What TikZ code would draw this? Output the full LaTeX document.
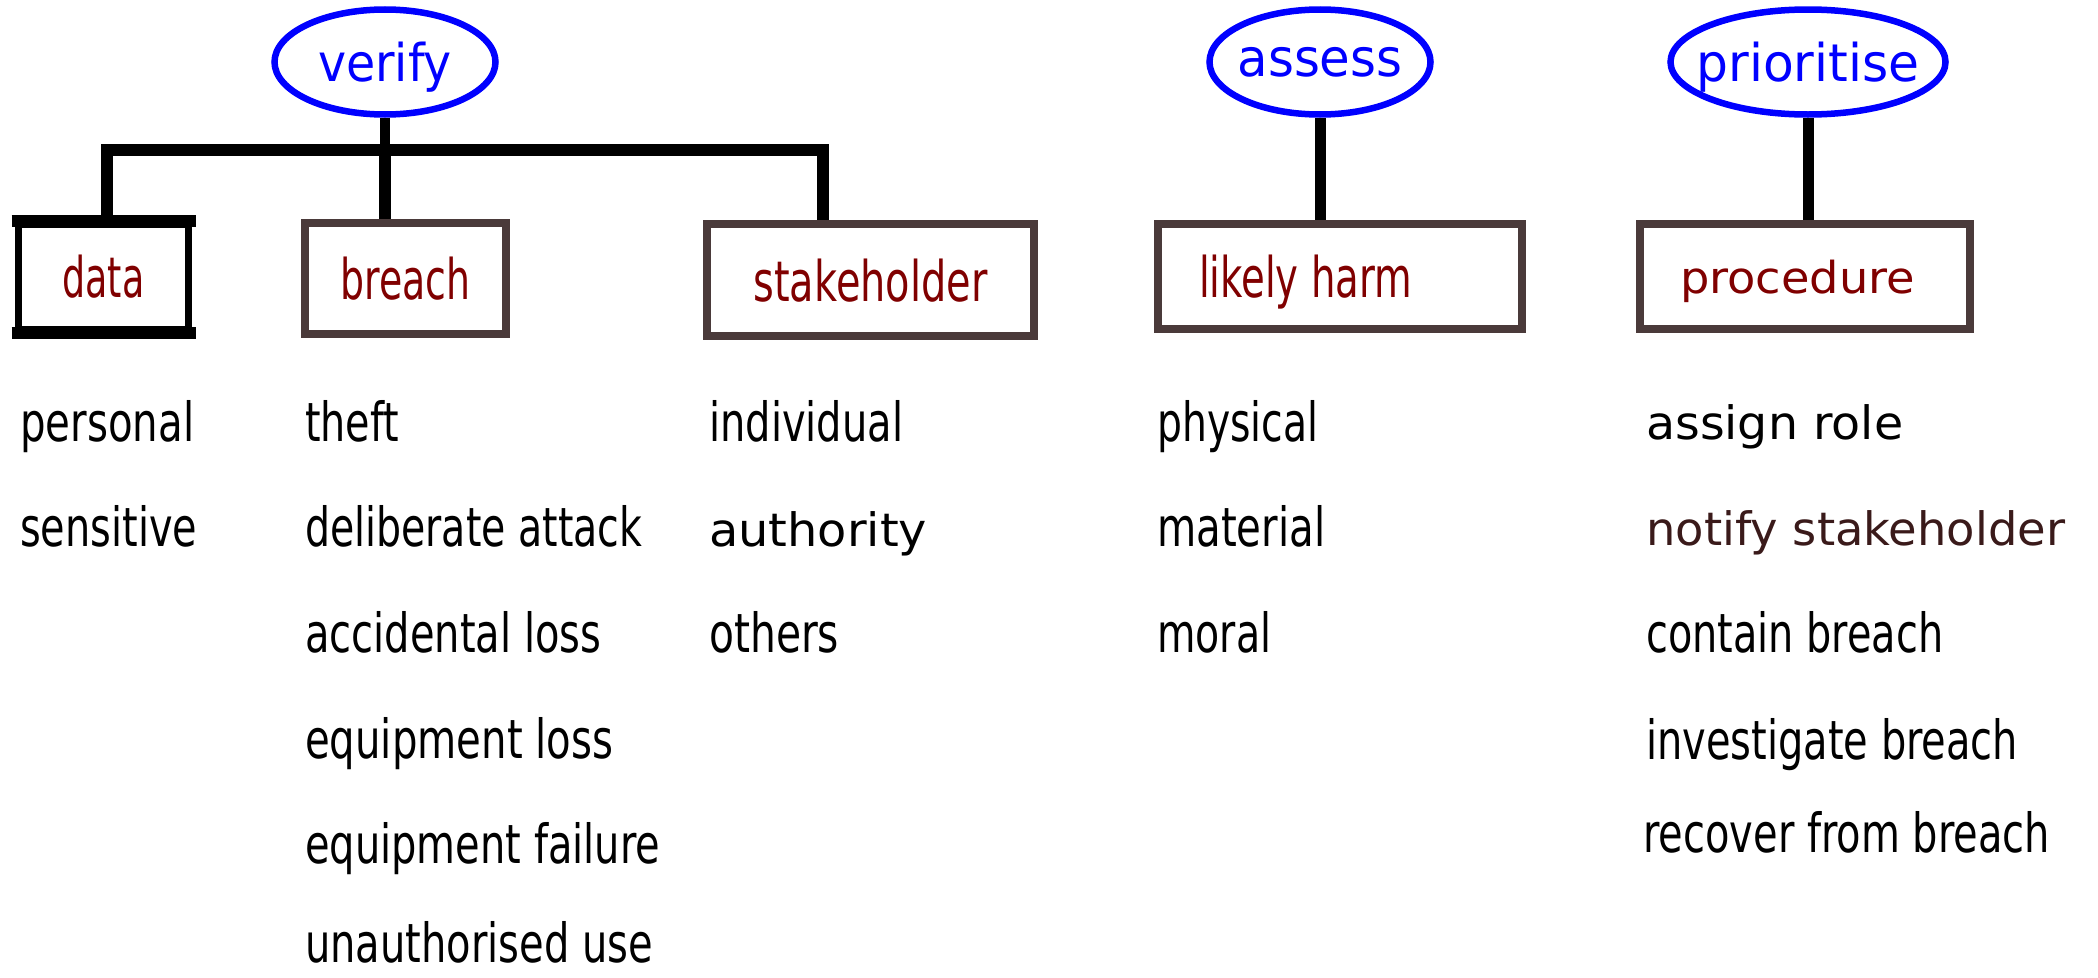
\documentclass[tikz,border=0pt]{standalone}
\usepackage{fontspec}
\setmainfont{DejaVu Sans}
\usepackage{graphicx}
\usetikzlibrary{shapes.geometric}
\definecolor{lblred}{HTML}{800000}
\definecolor{boxgray}{HTML}{4A3A3A}
\definecolor{ellblue}{HTML}{0000FF}
\definecolor{notifyc}{HTML}{3A1A1A}
\newcommand\fitw[2]{\resizebox{#1pt}{\height}{#2}}
\newcommand\gap[1]{\hbox to #1pt{}}
\begin{document}
\begin{tikzpicture}[x=1pt,y=-1pt,
  ell/.style={ellipse, draw=ellblue, line width=6.5pt, text=ellblue, inner sep=0pt,
    minimum height=105pt, text depth=0pt, font=\fontsize{52}{62}\selectfont},
  box/.style={rectangle, draw=boxgray, line width=8pt, text=lblred, inner sep=0pt,
    text depth=0pt, font=\fontsize{56}{66}\selectfont},
  item/.style={anchor=base west, inner sep=0pt, font=\fontsize{54}{64}\selectfont},
  ritem/.style={anchor=base west, inner sep=0pt, font=\fontsize{46}{56}\selectfont},
  conn/.style={line width=12pt, line join=miter},
]
\useasboundingbox (0,0) rectangle (2098,977);

% ellipses
\node[ell, minimum width=221pt] (verify) at (385,62) {\makebox[0pt]{\fitw{134}{verify}}};
\node[ell, minimum width=221pt] (assess) at (1320,62) {\makebox[0pt]{\fitw{165}{assess}}};
\node[ell, minimum width=275pt] (prio) at (1808,62) {\makebox[0pt]{\fitw{223}{prioritise}}};

% boxes
\node[box, draw=black, line width=7pt, minimum width=170pt, minimum height=105pt] (data) at (103.5,276.5) {\fitw{82}{data}};
\draw[line width=12pt, shorten <=-3.5pt, shorten >=-3.5pt] (data.north west) -- (data.north east);
\draw[line width=12pt, shorten <=-3.5pt, shorten >=-3.5pt] (data.south west) -- (data.south east);
\node[box, minimum width=201pt, minimum height=111pt] (breach) at (405.5,278.5) {\fitw{130}{breach}};
\node[box, minimum width=327pt, minimum height=112pt] (stake) at (870.5,280) {\fitw{234}{stakeholder}};
\node[box, minimum width=364pt, minimum height=105pt] (likely) at (1340,276.5) {\fitw{213}{likely harm}\gap{69}};
\node[box, minimum width=330pt, minimum height=105pt, font=\fontsize{44}{54}\selectfont] (proc) at (1805,276.5) {\fitw{235}{procedure}\gap{15}};

% connectors
\coordinate (jl) at (107,150);
\coordinate (jm) at (385,150);
\coordinate (jr) at (823,150);
\draw[conn] (jl |- data.north) -- (jl) -- (jr) -- (jr |- stake.north);
\draw[line width=10pt] (verify.south) -- (jm);
\draw[conn] (jm) -- (jm |- breach.north);
\draw[line width=11pt] (assess.south) -- (assess.south |- likely.north);
\draw[line width=11pt] (prio.south) -- (prio.south |- proc.north);

% data items
\node[item] (personal) at (20,441) {\fitw{174}{personal}};
\node[item] (sensitive) at (20,546) {\fitw{177}{sensitive}};
% breach items
\node[item] (theft) at (305,441) {\fitw{94}{theft}};
\node[item] (deliberate) at (305,546) {\fitw{337}{deliberate attack}};
\node[item] (accidental) at (305,652) {\fitw{296}{accidental loss}};
\node[item] (eqloss) at (305,758) {\fitw{308}{equipment loss}};
\node[item] (eqfail) at (305,863) {\fitw{355}{equipment failure}};
\node[item] (unauth) at (305,962) {\fitw{348}{unauthorised use}};
% stakeholder items
\node[item] (individual) at (709,441) {\fitw{194}{individual}};
\node[ritem] (authority) at (709,546) {\fitw{218}{authority}};
\node[item] (others) at (709,652) {\fitw{130}{others}};
% harm items
\node[item] (physical) at (1157,441) {\fitw{161}{physical}};
\node[item] (material) at (1157,546) {\fitw{168}{material}};
\node[item] (moral) at (1157,652) {\fitw{114}{moral}};
% procedure items
\node[ritem] (assign) at (1646,439) {\fitw{257}{assign role}};
\node[ritem, text=notifyc] (notify) at (1646,545) {\fitw{419}{notify stakeholder}};
\node[item] (contain) at (1646,652) {\fitw{297}{contain breach}};
\node[item] (investigate) at (1646,759) {\fitw{372}{investigate breach}};
\node[item] (recover) at (1643,852) {\fitw{407}{recover from breach}};
\end{tikzpicture}
\end{document}
